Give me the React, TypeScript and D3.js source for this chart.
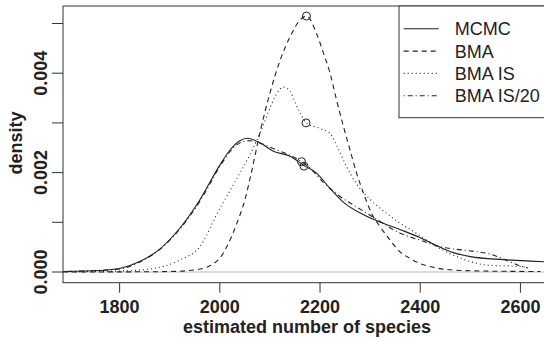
import React from "react";
import * as d3 from "d3";

// ---- data ----
const mcmc: [number, number][] = [
  [1687, 0.00001], [1760, 0.00003], [1800, 0.00007], [1840, 0.00021], [1880, 0.00046],
  [1920, 0.00088], [1960, 0.00145], [2000, 0.00215], [2020, 0.00245], [2040, 0.00264],
  [2055, 0.00269], [2080, 0.0026], [2107, 0.00243], [2140, 0.00233], [2167, 0.00215],
  [2193, 0.00199], [2220, 0.00168], [2247, 0.0014], [2287, 0.00115], [2326, 0.00098],
  [2366, 0.00083], [2400, 0.00069], [2433, 0.00053], [2466, 0.00039], [2500, 0.00031],
  [2566, 0.00025], [2620, 0.00022], [2665, 0.0002],
];

const bma: [number, number][] = [
  [1687, 0], [1850, 0.000005], [1900, 0.00001], [1948, 0.00004], [1975, 0.0001],
  [1988, 0.00017], [2000, 0.00028], [2014, 0.00051], [2034, 0.00098], [2050, 0.00145],
  [2063, 0.002], [2080, 0.0028], [2100, 0.0036], [2120, 0.00425], [2140, 0.00473],
  [2160, 0.00507], [2173, 0.00515], [2193, 0.0048], [2207, 0.0044], [2220, 0.004],
  [2233, 0.00346], [2247, 0.00292], [2260, 0.00245], [2273, 0.00199], [2287, 0.00158],
  [2303, 0.00118], [2320, 0.00091], [2340, 0.00064], [2356, 0.00044], [2380, 0.00027],
  [2400, 0.00017], [2433, 0.00008], [2466, 0.00004], [2520, 0.00002], [2640, 0.00001],
];

const bmaIS: [number, number][] = [
  [1687, 0.000005], [1800, 0.00002], [1867, 0.00007], [1920, 0.00024], [1960, 0.00051],
  [1997, 0.00122], [2035, 0.0019], [2063, 0.00242], [2083, 0.00286], [2097, 0.00322],
  [2113, 0.00358], [2127, 0.00372], [2140, 0.00364], [2153, 0.00335], [2163, 0.00315],
  [2172, 0.003], [2200, 0.00289], [2220, 0.00279], [2233, 0.00255], [2253, 0.00212],
  [2273, 0.00177], [2300, 0.00146], [2333, 0.00118], [2360, 0.00098], [2386, 0.00082],
  [2433, 0.00051], [2480, 0.00028], [2533, 0.00014], [2600, 0.00011], [2610, 0.0001],
];

const bmaIS20: [number, number][] = [
  [1687, 0.00001], [1800, 0.00006], [1840, 0.0002], [1880, 0.00045], [1920, 0.00086],
  [1960, 0.00142], [2000, 0.00212], [2020, 0.00242], [2045, 0.00262], [2060, 0.00264],
  [2080, 0.00259], [2113, 0.00246], [2140, 0.00235], [2163, 0.00222], [2180, 0.00209],
  [2207, 0.0018], [2240, 0.00152], [2273, 0.00131], [2313, 0.00106], [2360, 0.00078],
  [2400, 0.00064], [2444, 0.0005], [2470, 0.00046], [2504, 0.00042], [2540, 0.00036],
  [2571, 0.00024], [2600, 0.00012], [2615, 0.00008],
];

// marked points (circles)
const markers: [number, number][] = [
  [2173, 0.00515],
  [2172, 0.003],
  [2163, 0.00222],
  [2168, 0.00213],
];

const xTicks = [1800, 2000, 2200, 2400, 2600];
const yTicks = [0, 0.001, 0.002, 0.003, 0.004, 0.005];
const yLabelled = [0, 0.002, 0.004];

const seriesNames = ["MCMC", "BMA", "BMA IS", "BMA IS/20"];
const seriesData = [mcmc, bma, bmaIS, bmaIS20];
const dashes = ["none", "5,4", "1,3", "1,3,5,3"];

const xTitle = "estimated number of species";
const yTitle = "density";

export default function App() {
  const W = 544, H = 339;
  const left = 63, right = 551, top = 6, bottom = 282.7;
  const x = d3.scaleLinear().domain([1687, 2661]).range([left, right]);
  const y = d3.scaleLinear().domain([-0.000215, 0.005352]).range([bottom, top]);
  const line = d3
    .line<[number, number]>()
    .x((d) => x(d[0]))
    .y((d) => y(d[1]))
    .curve(d3.curveMonotoneX);

  const ink = "#222";
  const font = "'Liberation Sans', Arial, Helvetica, sans-serif";
  const legX = 399;
  const legRow0 = 28.8;
  const legStep = 22.3;

  return (
    <svg
      width={W}
      height={H}
      style={{ position: "absolute", left: 0, top: 0, background: "#fff" }}
      fontFamily={font}
    >
      <defs>
        <clipPath id="plotclip">
          <rect x={left} y={top} width={right - left} height={bottom - top} />
        </clipPath>
      </defs>
      {/* zero reference line */}
      <line x1={left} x2={right} y1={y(0)} y2={y(0)} stroke="#b8b8b8" strokeWidth={1} />
      {/* curves */}
      <g clipPath="url(#plotclip)">
        {seriesData.map((s, i) => (
          <path
            key={seriesNames[i]}
            d={line(s) || ""}
            fill="none"
            stroke={ink}
            strokeWidth={1.1}
            strokeDasharray={dashes[i] === "none" ? undefined : dashes[i]}
          />
        ))}
        {markers.map((m, i) => (
          <circle key={i} cx={x(m[0])} cy={y(m[1])} r={4} fill="none" stroke={ink} strokeWidth={1} />
        ))}
      </g>
      {/* box */}
      <rect x={left} y={top} width={right - left} height={bottom - top} fill="none" stroke="#333" strokeWidth={1} />
      {/* x axis ticks */}
      {xTicks.map((t) => (
        <g key={t}>
          <line x1={x(t)} x2={x(t)} y1={bottom} y2={bottom + 10} stroke="#333" />
          <text x={x(t)} y={312.7} textAnchor="middle" fontSize={18} fontWeight="bold" fill={ink}>
            {t}
          </text>
        </g>
      ))}
      {/* y axis ticks */}
      {yTicks.map((t) => (
        <g key={t}>
          <line x1={left - 11} x2={left} y1={y(t)} y2={y(t)} stroke="#333" />
          {yLabelled.includes(t) && (
            <text
              transform={`translate(46.7,${y(t)}) rotate(-90)`}
              textAnchor="middle"
              fontSize={18}
              fontWeight="bold"
              fill={ink}
            >
              {t.toFixed(3)}
            </text>
          )}
        </g>
      ))}
      {/* axis titles */}
      <text x={307} y={333} textAnchor="middle" fontSize={18} fontWeight="bold" fill={ink}>
        {xTitle}
      </text>
      <text transform={`translate(22,143) rotate(-90)`} textAnchor="middle" fontSize={18} fontWeight="bold" fill={ink}>
        {yTitle}
      </text>
      {/* legend */}
      <rect x={legX} y={top} width={200} height={117.7 - top} fill="#fff" stroke="#333" strokeWidth={1} />
      {seriesNames.map((n, i) => {
        const cy = legRow0 + i * legStep;
        return (
          <g key={n}>
            <line
              x1={403.7}
              x2={438.7}
              y1={cy}
              y2={cy}
              stroke={ink}
              strokeWidth={1.1}
              strokeDasharray={dashes[i] === "none" ? undefined : dashes[i]}
            />
            <text x={454.7} y={cy + 6.5} fontSize={18} fill={ink}>
              {n}
            </text>
          </g>
        );
      })}
    </svg>
  );
}
